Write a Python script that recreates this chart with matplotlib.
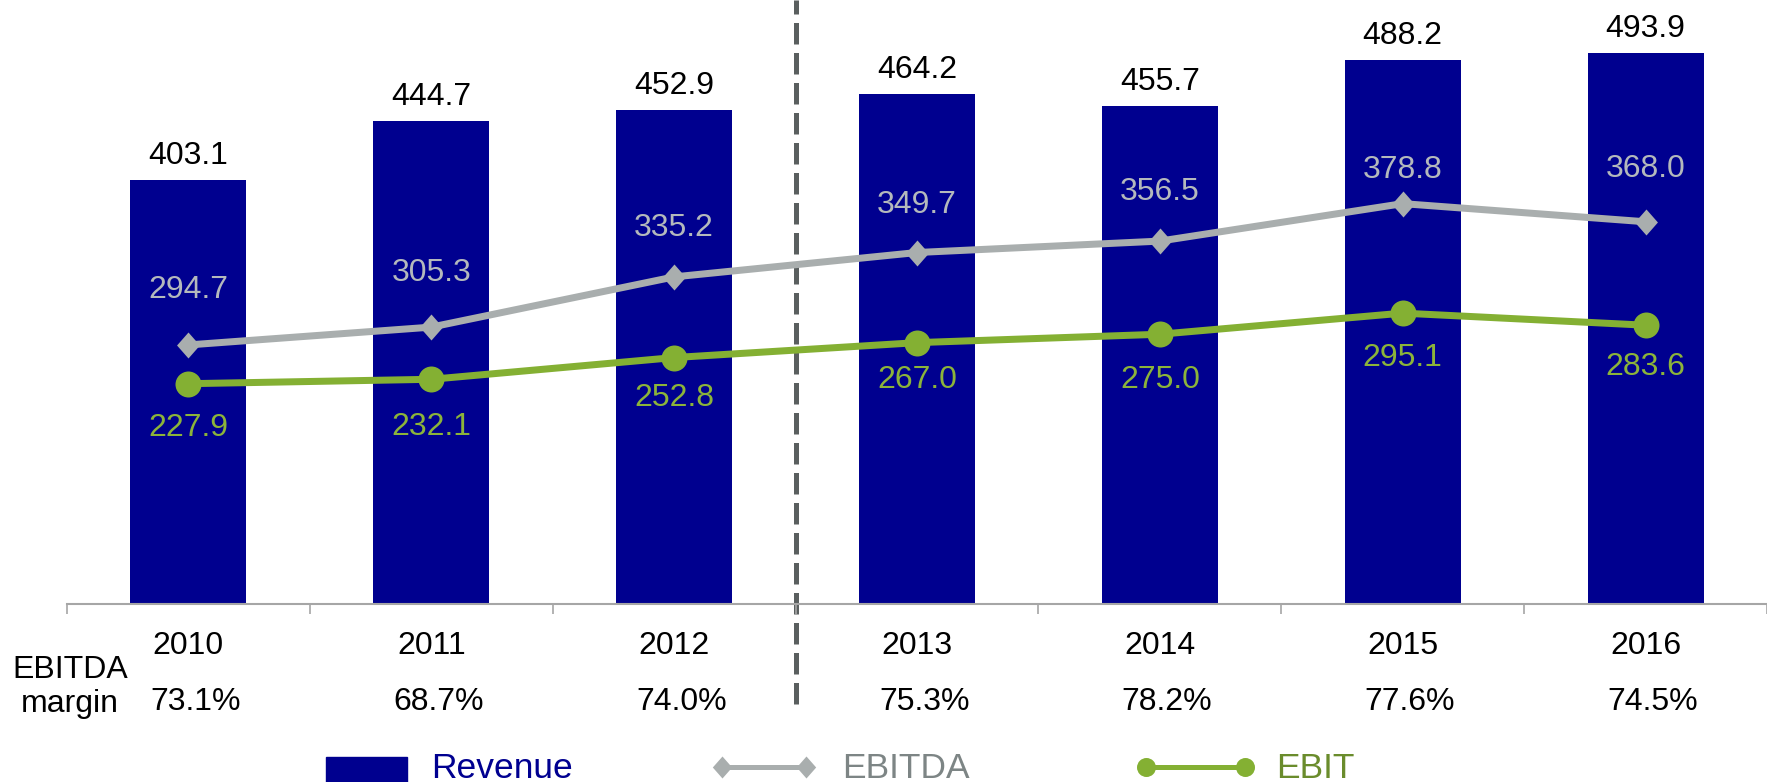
import matplotlib
matplotlib.use("Agg")
import matplotlib.pyplot as plt
from matplotlib.path import Path
from matplotlib.lines import Line2D
from matplotlib.patches import Rectangle

plt.rcParams['font.family'] = ['Liberation Sans', 'DejaVu Sans']

years = ['2010', '2011', '2012', '2013', '2014', '2015', '2016']
revenue = [403.1, 444.7, 452.9, 464.2, 455.7, 488.2, 493.9]
ebitda = [294.7, 305.3, 335.2, 349.7, 356.5, 378.8, 368.0]
ebit = [227.9, 232.1, 252.8, 267.0, 275.0, 295.1, 283.6]
margins = ['73.1%', '68.7%', '74.0%', '75.3%', '78.2%', '77.6%', '74.5%']

NAVY = '#00008f'
GREY = '#a9aeae'
GREY_TXT = '#b4b9bc'
GREEN = '#84b033'
GREEN_TXT = '#8cb43a'
FS = 23

W, H = 1767, 782
PT = 72 / 100  # pixels -> points at dpi 100

fig = plt.figure(figsize=(W / 100, H / 100), dpi=100)

# plot area: x from 67px to right edge, baseline at 604px from top
base_px = 604
ax = fig.add_axes([67 / W, (H - base_px) / H, (W - 67) / W, base_px / H])
ax2 = ax.twinx()
ax3 = ax.twinx()

x = list(range(len(years)))
ax.set_xlim(-0.5, 6.455)
ax.set_ylim(100, 531.4)     # revenue
ax2.set_ylim(140.5, 500)    # EBITDA
ax3.set_ylim(18.1, 593.3)   # EBIT

for a in (ax, ax2, ax3):
    for s in a.spines.values():
        s.set_visible(False)
    a.set_yticks([])
    a.patch.set_visible(False)

ax.spines['bottom'].set_visible(True)
ax.spines['bottom'].set_color('#a6a6a6')
ax.spines['bottom'].set_linewidth(1.5)
ax.set_xticks([i - 0.5 for i in range(len(years) + 1)])
ax.set_xticklabels([])
ax.tick_params(axis='x', length=7, width=1.2, color='#a6a6a6', direction='out')

# revenue bars
bars = ax.bar(x, revenue, width=0.478, color=NAVY, zorder=2)
for xi, v in zip(x, revenue):
    ax.annotate(f'{v:.1f}', (xi, v), xytext=(0, 16 * PT), textcoords='offset points',
                ha='center', va='baseline', fontsize=FS, color='black')

# split between actuals and later years
ax.axvline(2.5, ymin=-100 / base_px, ymax=1, clip_on=False, color='#5a5f5f',
           lw=3.6, dashes=(4.3, 1.7), zorder=1)

diamond = Path([(0, 1), (0.88, 0), (0, -1), (-0.88, 0), (0, 1)],
               [Path.MOVETO, Path.LINETO, Path.LINETO, Path.LINETO, Path.CLOSEPOLY])

ax2.plot(x, ebitda, color=GREY, lw=7 * PT, marker=diamond, markersize=26 * PT,
         markeredgewidth=0, solid_capstyle='butt')
ebitda_dy = [55, 54, 49, 48, 49, 34, 53]
for xi, v, dy in zip(x, ebitda, ebitda_dy):
    ax2.annotate(f'{v:.1f}', (xi, v), xytext=(0, dy * PT), textcoords='offset points',
                 ha='center', va='center', fontsize=FS, color=GREY_TXT)

ax3.plot(x, ebit, color=GREEN, lw=7 * PT, marker='o', markersize=26 * PT,
         markeredgewidth=0, solid_capstyle='butt')
ebit_dy = [44, 48, 40, 37, 46, 45, 42]
for xi, v, dy in zip(x, ebit, ebit_dy):
    ax3.annotate(f'{v:.1f}', (xi, v), xytext=(0, -dy * PT), textcoords='offset points',
                 ha='center', va='center', fontsize=FS, color=GREEN_TXT)

# year row and EBITDA margin row under the axis
trans = ax.get_xaxis_transform()
def ax_y(px):
    return (base_px - px) / base_px

for xi, yr, m in zip(x, years, margins):
    ax.text(xi, ax_y(654), yr, transform=trans, ha='center', va='baseline',
            fontsize=FS, clip_on=False)
    ax.text(xi + 0.03, ax_y(710), m, transform=trans, ha='center', va='baseline',
            fontsize=FS, clip_on=False)

fig.text(70 / W, 1 - 678 / H, 'EBITDA', ha='center', va='baseline', fontsize=FS)
fig.text(70 / W, 1 - 712 / H, 'margin', ha='center', va='baseline', fontsize=FS)

# legend row along the bottom edge
fy = lambda px: 1 - px / H
fig.add_artist(Rectangle((326 / W, 0), 81 / W, (H - 757) / H,
                         transform=fig.transFigure, color=NAVY))
fig.text(431 / W, 4 / H, 'Revenue', color='#000090', fontsize=25.5, va='baseline')

fig.add_artist(Line2D([722 / W, 806 / W], [fy(767), fy(767)], transform=fig.transFigure,
                      color=GREY, lw=5 * PT, marker=diamond, markersize=22 * PT,
                      markeredgewidth=0))
fig.text(842 / W, 4 / H, 'EBITDA', color='#7d8585', fontsize=25.5, va='baseline')

fig.add_artist(Line2D([1146 / W, 1245 / W], [fy(767), fy(767)], transform=fig.transFigure,
                      color=GREEN, lw=5 * PT, marker='o', markersize=19 * PT,
                      markeredgewidth=0))
fig.text(1276 / W, 4 / H, 'EBIT', color='#6a8c2c', fontsize=25.5, va='baseline')

fig.savefig('out.png', dpi=100)
